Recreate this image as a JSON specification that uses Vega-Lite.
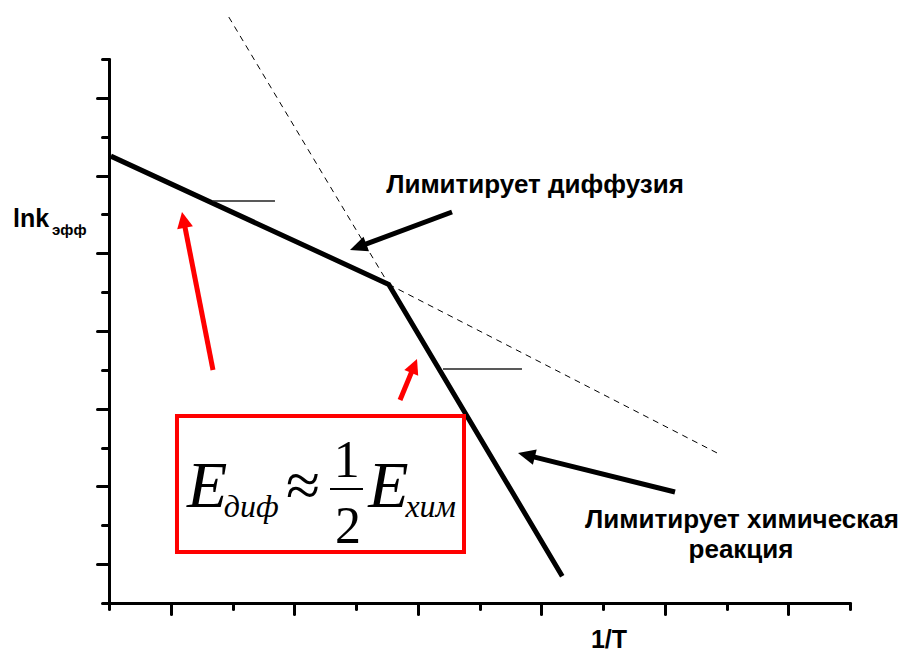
{
  "$schema": "https://vega.github.io/schema/vega-lite/v6.json",
  "width": 741,
  "height": 544,
  "autosize": {"type": "none"},
  "padding": {"left": 109, "top": 59, "right": 59, "bottom": 50},
  "background": "white",
  "config": {"view": {"stroke": null}},
  "encoding": {
    "x": {
      "field": "x", "type": "quantitative",
      "scale": {"domain": [0, 12], "nice": false, "zero": false},
      "axis": {
        "values": [0, 1, 2, 3, 4, 5, 6, 7, 8, 9, 10, 11, 12],
        "labels": false, "title": null, "grid": false,
        "domainColor": "black", "domainWidth": 3, "domainCap": "round",
        "tickColor": "black", "tickWidth": 3, "tickCap": "round",
        "tickSize": {"condition": {"test": "datum.value % 2 === 1", "value": 11}, "value": 6}
      }
    },
    "y": {
      "field": "y", "type": "quantitative",
      "scale": {"domain": [0, 14], "nice": false, "zero": false},
      "axis": {
        "values": [0, 1, 2, 3, 4, 5, 6, 7, 8, 9, 10, 11, 12, 13, 14],
        "labels": false, "title": null, "grid": false,
        "domainColor": "black", "domainWidth": 3, "domainCap": "round",
        "tickColor": "black", "tickWidth": 3, "tickCap": "round",
        "tickSize": {"condition": {"test": "datum.value % 2 === 1", "value": 12}, "value": 7}
      }
    }
  },
  "layer": [
    {
      "data": {"values": [{"x": 1.94, "y": 15.08}, {"x": 4.53, "y": 8.2}]},
      "mark": {"type": "line", "color": "black", "strokeWidth": 1, "strokeDash": [6, 5]}
    },
    {
      "data": {"values": [{"x": 4.53, "y": 8.2}, {"x": 9.91, "y": 3.81}]},
      "mark": {"type": "line", "color": "black", "strokeWidth": 1, "strokeDash": [6, 5]}
    },
    {
      "data": {"values": [{"x": 0.03, "y": 11.5}, {"x": 4.53, "y": 8.2}, {"x": 7.34, "y": 0.69}]},
      "mark": {"type": "line", "color": "black", "strokeWidth": 5, "strokeJoin": "miter"}
    },
    {
      "data": {"values": [{"x": 1.684, "y": 10.345, "x2": 2.688}, {"x": 5.409, "y": 6.022, "x2": 6.688}]},
      "mark": {"type": "rule", "color": "#222222", "strokeWidth": 1.5},
      "encoding": {"x2": {"field": "x2"}}
    },
    {
      "data": {"values": [
        {"x": 5.555, "y": 10.063, "x2": 4.115, "y2": 9.211},
        {"x": 9.166, "y": 2.857, "x2": 6.844, "y2": 3.773}
      ]},
      "mark": {"type": "rule", "color": "black", "strokeWidth": 5},
      "encoding": {"x2": {"field": "x2"}, "y2": {"field": "y2"}}
    },
    {
      "data": {"values": [{"x": 3.903, "y": 9.085}]},
      "mark": {"type": "point", "shape": "M0,0L-0.45,1L0.45,1Z", "size": 1200, "filled": true, "color": "black", "opacity": 1, "angle": 249.6}
    },
    {
      "data": {"values": [{"x": 6.623, "y": 3.86}]},
      "mark": {"type": "point", "shape": "M0,0L-0.45,1L0.45,1Z", "size": 1200, "filled": true, "color": "black", "opacity": 1, "angle": 283.95}
    },
    {
      "data": {"values": [
        {"x": 1.684, "y": 5.996, "x2": 1.226, "y2": 9.71},
        {"x": 4.713, "y": 5.224, "x2": 4.913, "y2": 5.994}
      ]},
      "mark": {"type": "rule", "color": "#ff0000", "strokeWidth": 5},
      "encoding": {"x2": {"field": "x2"}, "y2": {"field": "y2"}}
    },
    {
      "data": {"values": [{"x": 1.182, "y": 10.063}]},
      "mark": {"type": "point", "shape": "M0,0L-0.5,1L0.5,1Z", "size": 1024, "filled": true, "color": "#ff0000", "opacity": 1, "angle": 348.9}
    },
    {
      "data": {"values": [{"x": 4.988, "y": 6.279}]},
      "mark": {"type": "point", "shape": "M0,0L-0.5,1L0.5,1Z", "size": 900, "filled": true, "color": "#ff0000", "opacity": 1, "angle": 22.5}
    },
    {
      "data": {"values": [{"x": 1.101, "y": 4.813, "x2": 5.749, "y2": 1.3125}]},
      "mark": {"type": "rect", "fill": null, "fillOpacity": 0, "stroke": "#ff0000", "strokeWidth": 4},
      "encoding": {"x2": {"field": "x2"}, "y2": {"field": "y2"}}
    },
    {
      "data": {"values": [{"x": 3.579, "y": 2.934, "x2": 4.113}]},
      "mark": {"type": "rule", "color": "black", "strokeWidth": 2},
      "encoding": {"x2": {"field": "x2"}}
    },
    {
      "data": {"values": [{"x": 1.263, "y": 2.471, "t": "E"}, {"x": 4.2, "y": 2.471, "t": "E"}]},
      "mark": {"type": "text", "font": "Liberation Serif", "fontStyle": "italic", "fontSize": 66, "align": "left", "baseline": "alphabetic", "color": "black"},
      "encoding": {"text": {"field": "t"}}
    },
    {
      "data": {"values": [{"x": 1.86, "y": 2.213, "t": "диф"}, {"x": 4.8, "y": 2.213, "t": "хим"}]},
      "mark": {"type": "text", "font": "Liberation Serif", "fontStyle": "italic", "fontSize": 32, "align": "left", "baseline": "alphabetic", "color": "black"},
      "encoding": {"text": {"field": "t"}}
    },
    {
      "data": {"values": [{"x": 3.14, "y": 2.5, "t": "≈"}]},
      "mark": {"type": "text", "font": "Liberation Serif", "fontSize": 62, "align": "center", "baseline": "alphabetic", "color": "black"},
      "encoding": {"text": {"field": "t"}}
    },
    {
      "data": {"values": [{"x": 3.85, "y": 3.243, "t": "1"}, {"x": 3.87, "y": 1.544, "t": "2"}]},
      "mark": {"type": "text", "font": "Liberation Serif", "fontSize": 52, "align": "center", "baseline": "alphabetic", "color": "black"},
      "encoding": {"text": {"field": "t"}}
    },
    {
      "data": {"values": [
        {"x": 6.899, "y": 10.551, "t": "Лимитирует диффузия"},
        {"x": 10.251, "y": 1.93, "t": "Лимитирует химическая"},
        {"x": 10.235, "y": 1.158, "t": "реакция"}
      ]},
      "mark": {"type": "text", "font": "Liberation Sans", "fontWeight": "bold", "fontSize": 26, "align": "center", "baseline": "alphabetic", "color": "black"},
      "encoding": {"text": {"field": "t"}}
    },
    {
      "data": {"values": [{"x": 8.097, "y": -1.158, "t": "1/T"}]},
      "mark": {"type": "text", "font": "Liberation Sans", "fontWeight": "bold", "fontSize": 25, "align": "center", "baseline": "alphabetic", "color": "black"},
      "encoding": {"text": {"field": "t"}}
    },
    {
      "data": {"values": [{"x": -1.555, "y": 9.676, "t": "lnk"}]},
      "mark": {"type": "text", "font": "Liberation Sans", "fontWeight": "bold", "fontSize": 25, "align": "left", "baseline": "alphabetic", "color": "black"},
      "encoding": {"text": {"field": "t"}}
    },
    {
      "data": {"values": [{"x": -0.923, "y": 9.471, "t": "эфф"}]},
      "mark": {"type": "text", "font": "Liberation Sans", "fontWeight": "bold", "fontSize": 15, "align": "left", "baseline": "alphabetic", "color": "black"},
      "encoding": {"text": {"field": "t"}}
    }
  ]
}
